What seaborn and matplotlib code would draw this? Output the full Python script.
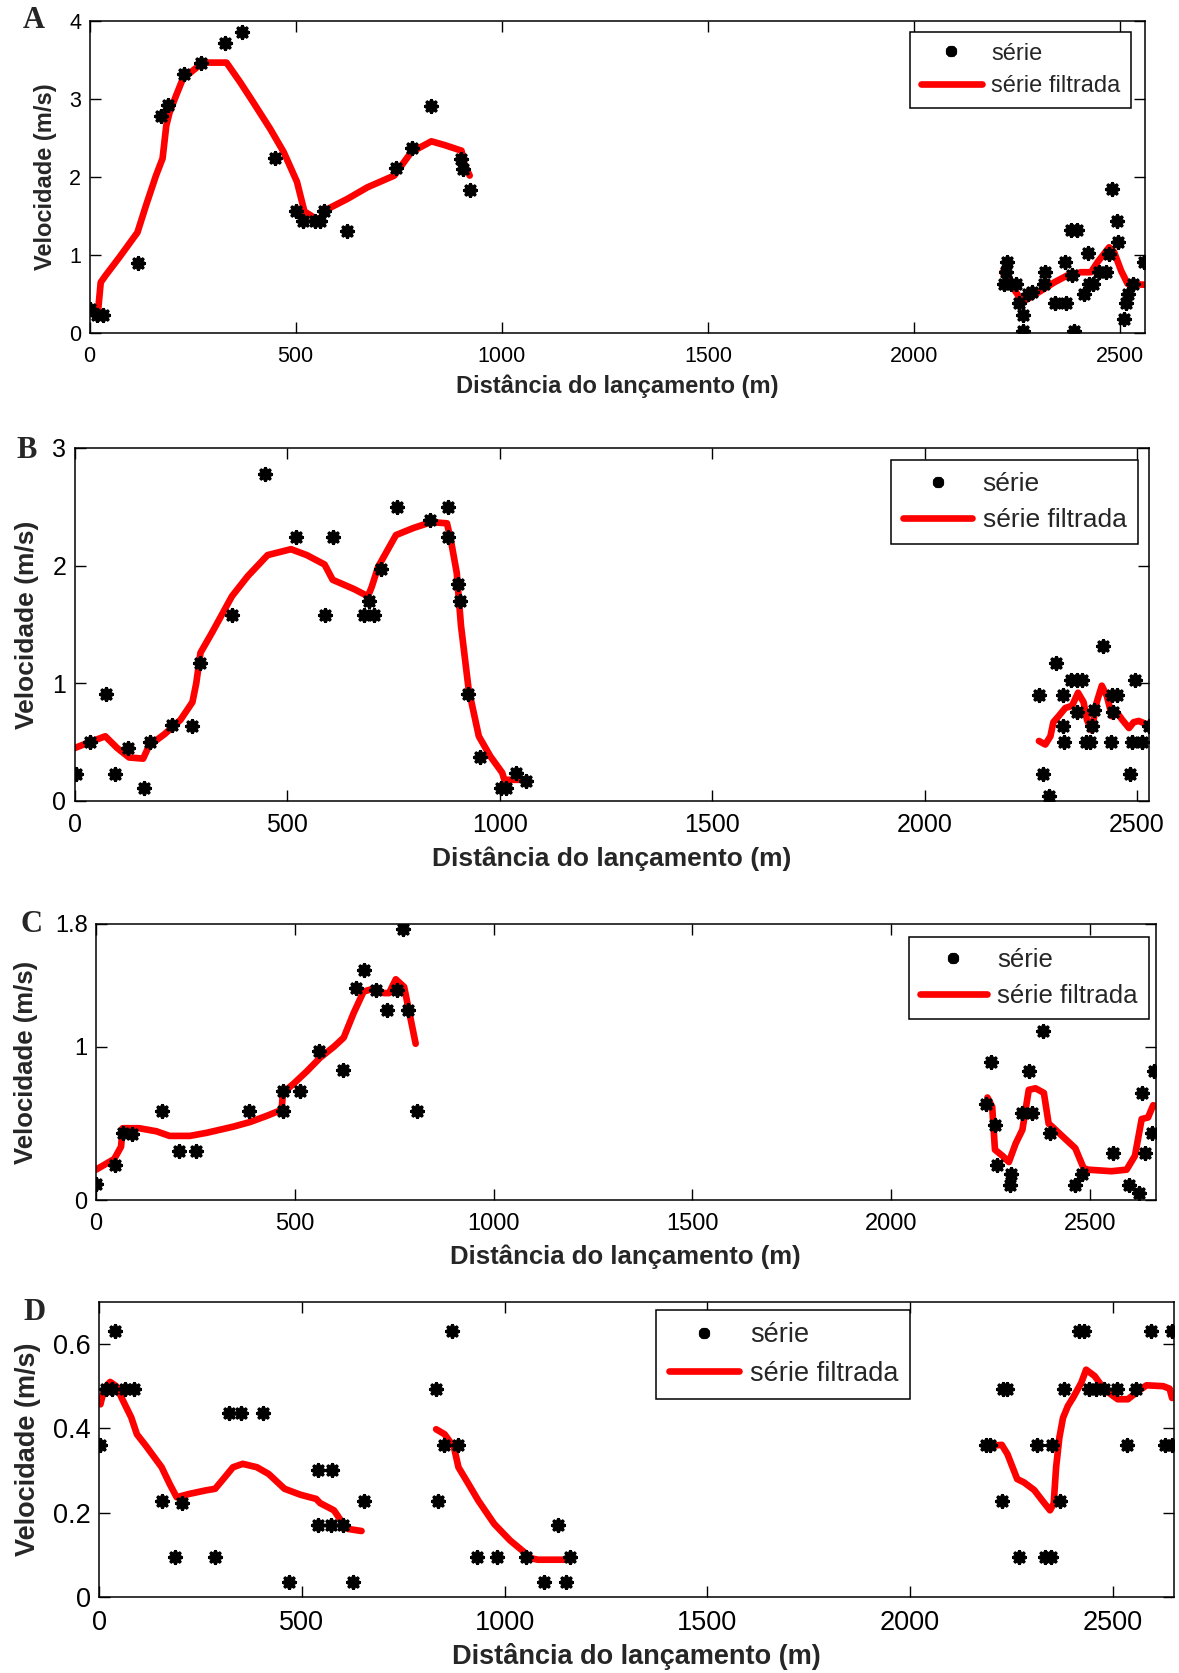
import numpy as np
import pandas as pd
import matplotlib
matplotlib.use("Agg")
import matplotlib.pyplot as plt
from matplotlib.lines import Line2D
import seaborn as sns

# ---------------- Panel A ----------------
a_pts_x = [0, 19, 33, 118, 173, 191, 228, 270, 329, 370, 450, 500, 518, 546, 558, 568,
           625, 742, 782, 829, 902, 906, 922,
           2218, 2222, 2225, 2235, 2247, 2255, 2263, 2265, 2275, 2287, 2314, 2317, 2341,
           2368, 2366, 2380, 2396, 2384, 2387, 2413, 2425, 2433, 2422, 2449, 2465, 2473,
           2479, 2491, 2495, 2508, 2514, 2519, 2532, 2558]
a_pts_y = [0.31, 0.23, 0.23, 0.90, 2.78, 2.92, 3.32, 3.47, 3.72, 3.86, 2.24, 1.57, 1.44,
           1.44, 1.44, 1.57, 1.31, 2.12, 2.38, 2.91, 2.23, 2.11, 1.84,
           0.63, 0.78, 0.91, 0.63, 0.63, 0.38, 0.23, 0.03, 0.50, 0.53, 0.63, 0.78, 0.38,
           0.38, 0.91, 1.32, 1.32, 0.74, 0.03, 0.50, 0.63, 0.63, 1.03, 0.78, 0.78, 1.02,
           1.85, 1.44, 1.17, 0.18, 0.38, 0.50, 0.63, 0.91]
a_fil1_x = [6, 21, 27, 39, 72, 116, 137, 161, 177, 186, 194, 210, 226, 251, 275, 332, 365,
            397, 438, 471, 503, 521, 548, 560, 577, 625, 674, 739, 780, 829, 862, 902, 910, 922]
a_fil1_y = [0.29, 0.31, 0.65, 0.74, 0.97, 1.29, 1.64, 2.02, 2.24, 2.66, 2.83, 3.05, 3.26,
            3.37, 3.47, 3.47, 3.22, 2.96, 2.62, 2.32, 1.94, 1.56, 1.47, 1.47, 1.59, 1.72,
            1.87, 2.02, 2.32, 2.46, 2.41, 2.34, 2.15, 2.02]
a_fil2_x = [2214, 2231, 2263, 2283, 2316, 2340, 2372, 2405, 2429, 2445, 2473, 2485, 2502, 2518, 2558]
a_fil2_y = [0.78, 0.65, 0.40, 0.46, 0.57, 0.65, 0.74, 0.78, 0.78, 0.91, 1.10, 1.04, 0.80, 0.63, 0.62]

# ---------------- Panel B ----------------
b_pts_x = [3, 35, 74, 96, 126, 163, 177, 228, 277, 296, 370, 447, 521, 588, 607, 681, 692,
           704, 721, 758, 837, 878, 878, 901, 906, 925, 953, 1002, 1014, 1039, 1062,
           2269, 2279, 2292, 2309, 2326, 2326, 2329, 2345, 2358, 2370, 2358, 2379, 2390,
           2394, 2398, 2419, 2441, 2453, 2439, 2444, 2484, 2487, 2496, 2512, 2528]
b_pts_y = [0.23, 0.50, 0.91, 0.23, 0.45, 0.11, 0.50, 0.65, 0.64, 1.17, 1.58, 2.78, 2.24,
           1.58, 2.24, 1.58, 1.70, 1.58, 1.97, 2.50, 2.39, 2.50, 2.24, 1.84, 1.70, 0.91,
           0.37, 0.11, 0.11, 0.24, 0.17,
           0.90, 0.23, 0.04, 1.17, 0.90, 0.64, 0.50, 1.03, 1.03, 1.03, 0.76, 0.50, 0.50,
           0.64, 0.77, 1.32, 0.90, 0.90, 0.50, 0.76, 0.23, 0.50, 1.03, 0.50, 0.64]
b_fil1_x = [0, 35, 72, 100, 128, 161, 175, 212, 249, 277, 286, 296, 323, 370, 407, 454, 509,
            546, 588, 607, 658, 690, 699, 714, 756, 797, 839, 876, 885, 899, 909, 927, 951,
            978, 1006, 1011, 1062]
b_fil1_y = [0.45, 0.50, 0.55, 0.45, 0.37, 0.36, 0.47, 0.57, 0.69, 0.84, 1.00, 1.26, 1.43,
            1.74, 1.91, 2.09, 2.14, 2.09, 2.01, 1.88, 1.80, 1.74, 1.82, 1.99, 2.26, 2.32,
            2.37, 2.36, 2.22, 1.94, 1.49, 0.95, 0.55, 0.38, 0.24, 0.18, 0.18]
b_fil2_x = [2269, 2284, 2296, 2303, 2315, 2331, 2347, 2361, 2374, 2382, 2393, 2405, 2417,
            2429, 2441, 2449, 2465, 2481, 2492, 2504, 2524]
b_fil2_y = [0.51, 0.48, 0.55, 0.67, 0.72, 0.79, 0.81, 0.92, 0.84, 0.69, 0.60, 0.84, 0.98,
            0.89, 0.72, 0.77, 0.69, 0.62, 0.67, 0.68, 0.65]

# ---------------- Panel C ----------------
c_pts_x = [0, 49, 67, 91, 167, 209, 251, 386, 470, 470, 513, 562, 621, 655, 673, 703, 731,
           756, 773, 785, 808,
           2238, 2252, 2261, 2265, 2298, 2302, 2330, 2346, 2353, 2382, 2399, 2463, 2480,
           2558, 2599, 2622, 2630, 2639, 2655, 2662]
c_pts_y = [0.11, 0.23, 0.44, 0.43, 0.58, 0.32, 0.32, 0.58, 0.58, 0.71, 0.71, 0.97, 0.85,
           1.38, 1.50, 1.37, 1.24, 1.37, 1.77, 1.24, 0.58,
           0.63, 0.90, 0.49, 0.23, 0.10, 0.17, 0.57, 0.84, 0.57, 1.10, 0.44, 0.10, 0.17,
           0.31, 0.10, 0.05, 0.70, 0.31, 0.44, 0.84]
c_fil1_x = [0, 46, 63, 67, 109, 152, 185, 236, 278, 345, 387, 429, 467, 470, 497, 530, 564,
            598, 623, 648, 673, 699, 724, 737, 754, 775, 804]
c_fil1_y = [0.20, 0.27, 0.35, 0.47, 0.47, 0.45, 0.42, 0.42, 0.44, 0.48, 0.51, 0.55, 0.59,
            0.70, 0.76, 0.84, 0.93, 1.00, 1.06, 1.22, 1.36, 1.38, 1.35, 1.35, 1.44, 1.39, 1.02]
c_fil2_x = [2242, 2254, 2261, 2280, 2296, 2313, 2330, 2346, 2363, 2384, 2396, 2405, 2438,
            2463, 2484, 2496, 2554, 2592, 2613, 2630, 2646, 2659]
c_fil2_y = [0.67, 0.61, 0.33, 0.29, 0.25, 0.37, 0.46, 0.72, 0.73, 0.70, 0.50, 0.48, 0.40,
            0.34, 0.21, 0.20, 0.19, 0.20, 0.29, 0.53, 0.54, 0.62]

# ---------------- Panel D ----------------
d_pts_x = [3, 16, 39, 32, 64, 86, 154, 188, 203, 286, 320, 350, 403, 467, 540, 574, 540,
           572, 602, 626, 652,
           831, 835, 870, 850, 884, 931, 982, 1053, 1097, 1131, 1152, 1160,
           2186, 2197, 2226, 2229, 2240, 2269, 2314, 2333, 2347, 2351, 2370, 2380, 2417,
           2430, 2442, 2459, 2479, 2511, 2535, 2558, 2593, 2628, 2645, 2646]
d_pts_y = [0.361, 0.494, 0.630, 0.494, 0.494, 0.494, 0.227, 0.096, 0.223, 0.096, 0.437,
           0.437, 0.437, 0.037, 0.301, 0.301, 0.172, 0.172, 0.172, 0.037, 0.227,
           0.494, 0.227, 0.630, 0.361, 0.361, 0.096, 0.096, 0.096, 0.037, 0.172, 0.037, 0.096,
           0.361, 0.361, 0.227, 0.494, 0.494, 0.096, 0.361, 0.096, 0.096, 0.361, 0.227,
           0.494, 0.630, 0.630, 0.494, 0.494, 0.494, 0.494, 0.361, 0.494, 0.630, 0.361,
           0.361, 0.630]
d_fil1_x = [3, 13, 27, 42, 57, 79, 93, 115, 154, 174, 191, 223, 262, 286, 306, 330, 354,
            389, 418, 457, 496, 535, 545, 579, 596, 613, 647]
d_fil1_y = [0.457, 0.496, 0.510, 0.500, 0.469, 0.426, 0.386, 0.359, 0.308, 0.268, 0.237,
            0.245, 0.253, 0.257, 0.280, 0.308, 0.316, 0.308, 0.292, 0.257, 0.243, 0.233,
            0.223, 0.206, 0.182, 0.162, 0.157]
d_fil2_x = [831, 852, 875, 886, 911, 935, 974, 1013, 1043, 1067, 1082, 1155]
d_fil2_y = [0.398, 0.386, 0.355, 0.308, 0.268, 0.229, 0.174, 0.135, 0.111, 0.092, 0.089, 0.089]
d_fil3_x = [2186, 2202, 2226, 2240, 2264, 2281, 2306, 2326, 2345, 2354, 2360, 2368, 2377,
            2389, 2402, 2422, 2434, 2455, 2479, 2512, 2537, 2562, 2583, 2624, 2640, 2646]
d_fil3_y = [0.355, 0.359, 0.361, 0.339, 0.280, 0.272, 0.254, 0.229, 0.206, 0.222, 0.308,
            0.378, 0.425, 0.453, 0.473, 0.508, 0.539, 0.524, 0.492, 0.469, 0.469, 0.488,
            0.502, 0.500, 0.494, 0.472]

# ---------------- Labels ----------------
panel_letters = ["A", "B", "C", "D"]
xlabel_text = "Distância do lançamento (m)"
ylabel_text = "Velocidade (m/s)"
legend_labels = ["série", "série filtrada"]
xtick_values = [0, 500, 1000, 1500, 2000, 2500]
yticks_a = [0, 1, 2, 3, 4]
yticks_b = [0, 1, 2, 3]
yticks_c = [0, 1, 1.8]
yticks_c_labels = ["0", "1", "1.8"]
yticks_d = [0, 0.2, 0.4, 0.6]
yticks_d_labels = ["0", "0.2", "0.4", "0.6"]


def points_frame(xs, ys):
    return pd.DataFrame({"dist": xs, "vel": ys})


def filtered_frame(*segments):
    rows = []
    for k, (xs, ys) in enumerate(segments):
        for x, y in zip(xs, ys):
            rows.append({"dist": x, "vel": y, "seg": k})
    return pd.DataFrame(rows)


sns.set_style("ticks")
plt.rcParams["font.family"] = ["Liberation Sans", "DejaVu Sans"]

fig = plt.figure(figsize=(11.79, 16.73), dpi=100)

W, H = 1179.0, 1673.0


def make_axes(left, right, top, bottom):
    return fig.add_axes([left / W, 1 - bottom / H, (right - left) / W, (bottom - top) / H])


panels = [
    dict(box=(89.6, 1145, 21.3, 333), pts=(a_pts_x, a_pts_y),
         fil=[(a_fil1_x, a_fil1_y), (a_fil2_x, a_fil2_y)],
         xlim=(0, 2560), ylim=(0, 4), yticks=yticks_a, ylabels=None,
         fs_tick=15.5, fs_lab=17, fs_leg=17, leg=(0.987, 0.966), letter=(34, 21),
         xpad=6, ypad=8.5),
    dict(box=(74.7, 1149, 448, 801), pts=(b_pts_x, b_pts_y),
         fil=[(b_fil1_x, b_fil1_y), (b_fil2_x, b_fil2_y)],
         xlim=(0, 2528), ylim=(0, 3), yticks=yticks_b, ylabels=None,
         fs_tick=18, fs_lab=19, fs_leg=19, leg=(0.990, 0.966), letter=(27, 450),
         xpad=6.5, ypad=9.5),
    dict(box=(96, 1155.6, 924, 1200.4), pts=(c_pts_x, c_pts_y),
         fil=[(c_fil1_x, c_fil1_y), (c_fil2_x, c_fil2_y)],
         xlim=(0, 2665), ylim=(0, 1.8), yticks=yticks_c, ylabels=yticks_c_labels,
         fs_tick=17, fs_lab=18.5, fs_leg=18.5, leg=(0.994, 0.954), letter=(32, 924),
         xpad=7, ypad=12.5),
    dict(box=(99.2, 1173.7, 1301.7, 1597.3), pts=(d_pts_x, d_pts_y),
         fil=[(d_fil1_x, d_fil1_y), (d_fil2_x, d_fil2_y), (d_fil3_x, d_fil3_y)],
         xlim=(0, 2650), ylim=(0, 0.7), yticks=yticks_d, ylabels=yticks_d_labels,
         fs_tick=19.5, fs_lab=19.5, fs_leg=19.5, leg=(0.755, 0.971), letter=(34, 1312),
         xpad=5.5, ypad=8.5),
]

star = (8, 2, 0)

for letter, p in zip(panel_letters, panels):
    ax = make_axes(*p["box"])
    pts = points_frame(*p["pts"])
    fil = filtered_frame(*p["fil"])

    sns.lineplot(data=fil, x="dist", y="vel", units="seg", estimator=None, sort=False,
                 color="#ff0000", linewidth=4.8, ax=ax, legend=False, zorder=2)
    sns.scatterplot(data=pts, x="dist", y="vel", marker=star, color="black",
                    edgecolor="black", linewidth=2.6, s=70, ax=ax, legend=False, zorder=3)

    ax.set_xlim(*p["xlim"])
    ax.set_ylim(*p["ylim"])
    ax.set_xticks(xtick_values)
    ax.set_yticks(p["yticks"])
    if p["ylabels"] is not None:
        ax.set_yticklabels(p["ylabels"])
    ax.tick_params(direction="in", length=8, width=1.0, top=True, right=True,
                   labelsize=p["fs_tick"], colors="black")
    ax.tick_params(axis="x", pad=9)
    ax.tick_params(axis="y", pad=6)
    for sp in ax.spines.values():
        sp.set_visible(True)
        sp.set_linewidth(1.1)
        sp.set_color("black")

    ax.set_xlabel(xlabel_text, fontsize=p["fs_lab"], fontweight="bold", labelpad=p["xpad"])
    ax.set_ylabel(ylabel_text, fontsize=p["fs_lab"], fontweight="bold", labelpad=p["ypad"])

    handles = [
        Line2D([], [], marker=star, color="black", linestyle="none", markersize=8,
               markeredgewidth=2.6),
        Line2D([], [], color="#ff0000", linewidth=4.8),
    ]
    leg = ax.legend(handles, legend_labels, loc="upper right", bbox_to_anchor=p["leg"],
                    fontsize=p["fs_leg"], frameon=True, fancybox=False, framealpha=1,
                    edgecolor="black", handlelength=2.6, handletextpad=0.4,
                    borderpad=0.45, labelspacing=0.45, borderaxespad=0)
    leg.get_frame().set_linewidth(1.1)

    lx, ly = p["letter"]
    fig.text(lx / W, 1 - ly / H, letter, fontsize=22, fontweight="bold",
             family=["Liberation Serif", "DejaVu Serif"], ha="center", va="center")

fig.savefig("out.png", dpi=100)
